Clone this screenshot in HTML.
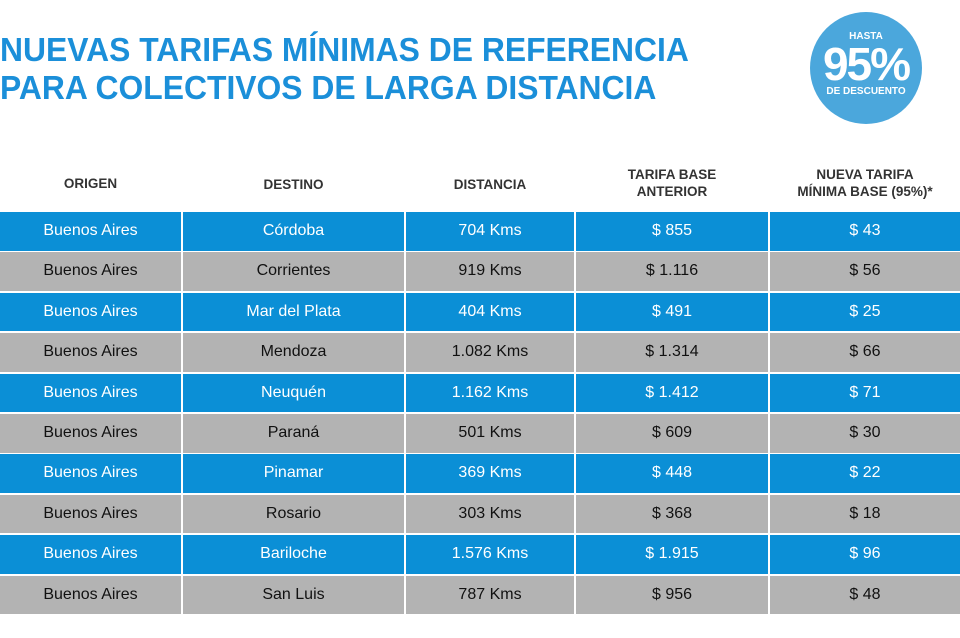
<!DOCTYPE html>
<html><head><meta charset="utf-8"><style>
body{margin:0;width:960px;height:638px;background:#fff;position:relative;overflow:hidden;font-family:"Liberation Sans",sans-serif}
.t{position:absolute;left:0;color:#1b8fd9;font-weight:900;font-size:33px;letter-spacing:0px;line-height:38px;white-space:nowrap;transform:scaleX(0.965);transform-origin:left}
.c{position:absolute;left:810px;top:12px;width:112px;height:112px;border-radius:50%;background:#4ba7dc;color:#fff;text-align:center}
.h{position:absolute;top:166px;font-weight:bold;font-size:13.5px;color:#333;text-align:center;line-height:17px}
.row{position:absolute;left:0;width:960px;height:38px}
.cell{position:absolute;top:0;height:38.5px;line-height:38.5px;text-align:center;font-size:16px}
</style></head><body>
<div class="t" style="top:31px">NUEVAS TARIFAS MÍNIMAS DE REFERENCIA</div>
<div class="t" style="top:69px">PARA COLECTIVOS DE LARGA DISTANCIA</div>
<div class="c"><div style="font-size:10px;font-weight:bold;margin-top:19px">HASTA</div><div style="font-size:46px;font-weight:900;line-height:44px;letter-spacing:-2px">95%</div><div style="font-size:10px;font-weight:bold">DE DESCUENTO</div></div>
<div class="h" style="left:0;width:181px;top:175px">ORIGEN</div>
<div class="h" style="left:183px;width:221px;top:176px">DESTINO</div>
<div class="h" style="left:406px;width:168px;top:176px">DISTANCIA</div>
<div class="h" style="left:576px;width:192px">TARIFA BASE<br>ANTERIOR</div>
<div class="h" style="left:770px;width:190px">NUEVA TARIFA<br>MÍNIMA BASE (95%)*</div>
<div id="rows"></div>
<script>
var d=[["Córdoba","704 Kms","$ 855","$ 43"],["Corrientes","919 Kms","$ 1.116","$ 56"],["Mar del Plata","404 Kms","$ 491","$ 25"],["Mendoza","1.082 Kms","$ 1.314","$ 66"],["Neuquén","1.162 Kms","$ 1.412","$ 71"],["Paraná","501 Kms","$ 609","$ 30"],["Pinamar","369 Kms","$ 448","$ 22"],["Rosario","303 Kms","$ 368","$ 18"],["Bariloche","1.576 Kms","$ 1.915","$ 96"],["San Luis","787 Kms","$ 956","$ 48"]];
var cols=[[0,181],[183,221],[406,168],[576,192],[770,190]];
var h="";
d.forEach(function(r,i){var blue=i%2==0;var bg=blue?"#0b8fd6":"#b3b3b3";var fg=blue?"#fff":"#111";var v=["Buenos Aires"].concat(r);
h+='<div class="row" style="top:'+(212+i*40.4)+'px">';
cols.forEach(function(c,j){h+='<div class="cell" style="left:'+c[0]+'px;width:'+c[1]+'px;background:'+bg+';color:'+fg+'">'+v[j]+'</div>';});
h+='</div>';});
document.getElementById("rows").innerHTML=h;
</script>
</body></html>
